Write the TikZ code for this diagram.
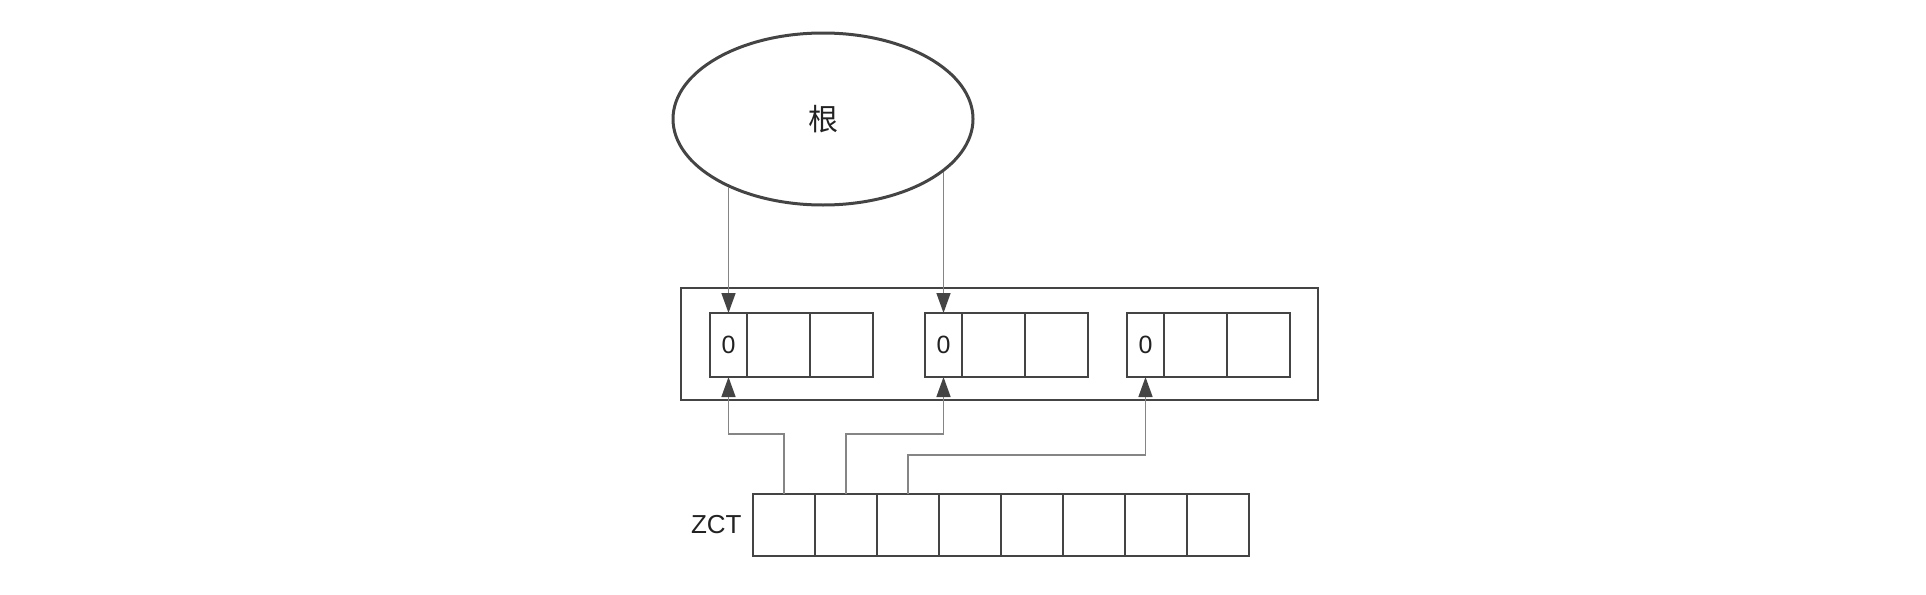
\documentclass[tikz,border=0pt]{standalone}
\usepackage{fontspec}
\setmainfont{Liberation Sans}
\newfontfamily\cjk{Noto Sans CJK SC}
\usetikzlibrary{shapes.geometric,arrows.meta}
\definecolor{boxgray}{HTML}{444444}
\definecolor{linkgray}{HTML}{858585}
\definecolor{textgray}{HTML}{222222}
\begin{document}
\begin{tikzpicture}[x=0.5pt,y=-0.5pt,
    cell/.style={draw=boxgray, line width=1.4pt, inner sep=0pt, outer sep=0pt, minimum height=32pt, text=textgray, font=\fontsize{12.5}{14}\selectfont},
    smallcell/.style={cell, minimum width=18.5pt},
    bigcell/.style={cell, minimum width=31.5pt},
    zctcell/.style={cell, minimum width=31pt, minimum height=31pt},
    link/.style={draw=linkgray, line width=0.75pt, -{Triangle[length=10pt,width=7pt,color=boxgray]}},
  ]
  \useasboundingbox (0,0) rectangle (1926,594);

  \node[ellipse, draw=boxgray, line width=1.5pt, minimum width=150pt, minimum height=86pt, inner sep=0pt, text=textgray, font=\cjk\fontsize{15}{17}\selectfont] (root) at (823,119) {根};

  \node[draw=boxgray, line width=1.4pt, minimum width=318.5pt, minimum height=56pt, inner sep=0pt] (frame) at (999.5,344) {};

  \foreach \g/\x in {1/710, 2/925, 3/1127} {
    \node[smallcell] (g\g-0) at (\x+18.5,345) {0};
    \node[bigcell] (g\g-1) at (\x+68.5,345) {};
    \node[bigcell] (g\g-2) at (\x+131.5,345) {};
  }

  \foreach \i in {1,...,8}
    \node[zctcell] (z\i) at (722+62*\i,525) {};

  \node[anchor=east, inner sep=0pt, text=textgray, font=\fontsize{13}{15}\selectfont] (zct) at ([xshift=-5.5pt]z1.west) {ZCT};

  \draw[link] (g1-0.north |- root.216) -- (g1-0.north);
  \draw[link] (g2-0.north |- root.336) -- (g2-0.north);

  \draw[link] (z1.north) -- ++(0,-60) -| (g1-0.south);
  \draw[link] (z2.north) -- ++(0,-60) -| (g2-0.south);
  \draw[link] (z3.north) -- ++(0,-39) -| (g3-0.south);
\end{tikzpicture}
\end{document}
